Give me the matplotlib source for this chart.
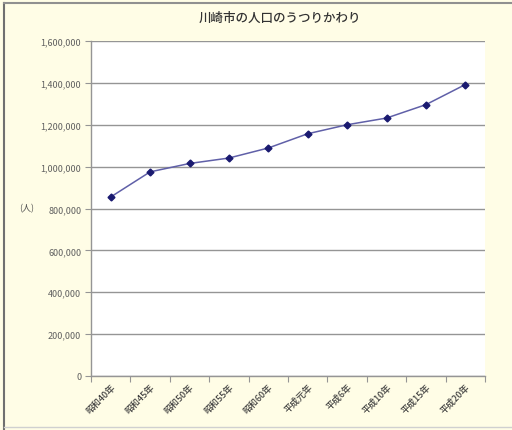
import numpy as np
import matplotlib.pyplot as plt
from matplotlib.lines import Line2D
from matplotlib.ticker import FuncFormatter

plt.rcParams['font.family'] = ['Noto Sans CJK JP', 'DejaVu Sans']

# データ
nendo = ['昭和40年', '昭和45年', '昭和50年', '昭和55年', '昭和60年',
         '平成元年', '平成6年', '平成10年', '平成15年', '平成20年']
jinko = [855000, 975000, 1015000, 1041000, 1089000,
         1157000, 1200000, 1232000, 1296000, 1392000]
y_ticks = [0, 200000, 400000, 600000, 800000, 1000000, 1200000, 1400000, 1600000]

bg = '#FFFDE6'
fig = plt.figure(figsize=(5.12, 4.31), dpi=100, facecolor=bg)
ax = fig.add_axes([91/512, 1 - 377/431, 394/512, 335/431])
ax.set_facecolor('white')

x = np.arange(len(nendo))
ax.plot(x, jinko, color='#6060A8', linewidth=1.1, marker='D', markersize=3.5,
        markerfacecolor='#1A1A70', markeredgecolor='#1A1A70', zorder=3)

ax.set_xlim(-0.5, len(nendo) - 0.5)
ax.set_ylim(0, 1600000)
ax.set_yticks(y_ticks)
ax.yaxis.set_major_formatter(FuncFormatter(lambda v, p: f'{int(v):,}'))
ax.grid(axis='y', color='#959595', linewidth=1.0)
ax.set_axisbelow(True)

# カテゴリ軸 (目盛は区切り位置)
ax.set_xticks(np.arange(-0.5, len(nendo)), minor=False)
ax.set_xticklabels([])
ax.set_xticks(x, minor=True)
ax.set_xticklabels(nendo, minor=True, rotation=45, ha='right', va='top',
                   rotation_mode='anchor', fontsize=6.5, color='#404040',
                   fontweight='medium')
ax.tick_params(axis='x', which='minor', length=0, pad=4)
ax.tick_params(axis='x', which='major', length=4, color='#959595')
ax.tick_params(axis='y', length=4, color='#959595', labelsize=6.5,
               labelcolor='#606060', pad=3)

for s in ['top', 'right']:
    ax.spines[s].set_visible(False)
for s in ['left', 'bottom']:
    ax.spines[s].set_color('#959595')
    ax.spines[s].set_linewidth(1.0)

fig.text(280/512, 1 - 18/431, '川崎市の人口のうつりかわり', ha='center', va='center',
         fontsize=9, color='#333333', fontweight='medium')
fig.text(27/512, 1 - 209/431, '(人)', ha='center', va='center',
         fontsize=6.5, color='#505050')

# 枠線
fig.add_artist(Line2D([4/512, 4/512], [0, 1 - 4/431], color='#707070', linewidth=1.5))
fig.add_artist(Line2D([4/512, 1], [1 - 4/431, 1 - 4/431], color='#909090', linewidth=1.5))
fig.add_artist(Line2D([4/512, 1], [3/431, 3/431], color='#D0D0D0', linewidth=1.0))

fig.savefig('out.png', dpi=100, facecolor=bg)
